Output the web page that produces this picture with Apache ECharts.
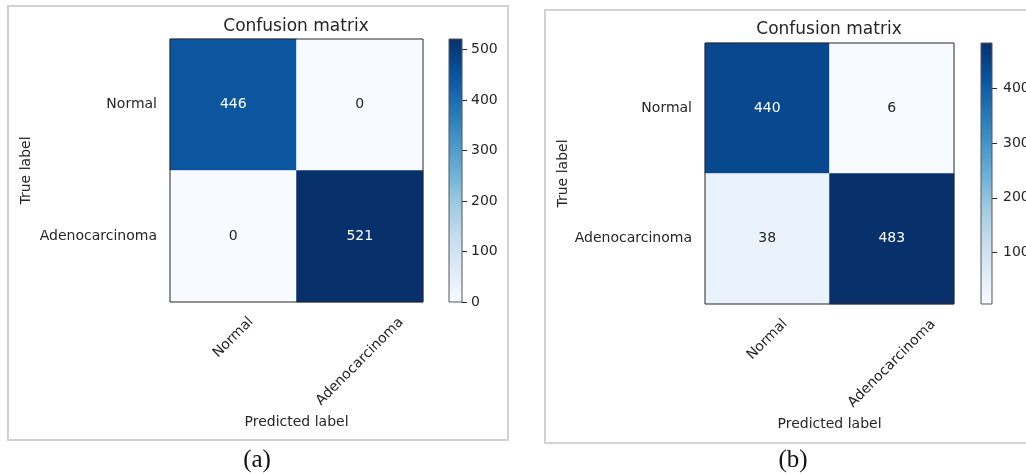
<!DOCTYPE html>
<html>
<head>
<meta charset="utf-8">
<script src="https://cdn.jsdelivr.net/npm/echarts@6/dist/echarts.min.js"></script>
<style>
  html, body { margin: 0; padding: 0; background: #fff; }
  #chart { width: 1026px; height: 474px; }
</style>
</head>
<body>
<div id="chart"></div>
<script>
// Class names, used for both the predicted (columns) and true (rows) axes
const classNames = ['Normal', 'Adenocarcinoma'];

// Confusion matrices: rows = true label, columns = predicted label
const matrixA = [
  [446, 0],
  [0, 521]
];
const matrixB = [
  [440, 6],
  [38, 483]
];

// Colour-bar tick labels
const colorbarTicksA = [0, 100, 200, 300, 400, 500];
const colorbarTicksB = [100, 200, 300, 400];

const panelCaptions = ['(a)', '(b)'];
const chartTitle = 'Confusion matrix';
const xAxisTitle = 'Predicted label';
const yAxisTitle = 'True label';

// matplotlib "Blues" colormap stops
const BLUES = ['#f7fbff', '#deebf7', '#c6dbef', '#9ecae1', '#6baed6',
               '#4292c6', '#2171b5', '#08519c', '#08306b'];
const FAMILY = '"DejaVu Sans", Verdana, sans-serif';
const INK = '#262626';
const TICK_FS = 14;

// Layout of the two panels (pixels)
const panels = [
  {
    matrix: matrixA, ticks: colorbarTicksA, caption: panelCaptions[0],
    grid: { left: 170, top: 39, width: 253, height: 263 },
    cbar: { left: 449, top: 39, width: 13, height: 263 },
    titlePos: [296, 27], captionPos: [257, 460],
    frame: { x: 8, y: 6, width: 500, height: 434 },
    nameGapX: 112, nameGapY: 137, cbarMargin: 9
  },
  {
    matrix: matrixB, ticks: colorbarTicksB, caption: panelCaptions[1],
    grid: { left: 705, top: 43, width: 249, height: 261 },
    cbar: { left: 981, top: 43, width: 11, height: 261 },
    titlePos: [829, 30], captionPos: [793, 460],
    frame: { x: 545, y: 10, width: 520, height: 433 },
    nameGapX: 113, nameGapY: 135, cbarMargin: 11
  }
];

// Measure label widths so rotated tick labels can be centred under their ticks
const measureCtx = document.createElement('canvas').getContext('2d');
measureCtx.font = TICK_FS + 'px ' + FAMILY;
const richX = {};
classNames.forEach(function (name, i) {
  const w = measureCtx.measureText(name).width;
  const pad = Math.round((w + TICK_FS) / 2);
  richX['c' + i] = {
    fontSize: TICK_FS, fontFamily: FAMILY, color: INK,
    padding: [pad, pad, 0, 0]
  };
});

const grids = [], xAxes = [], yAxes = [], series = [], visualMaps = [], graphics = [];

panels.forEach(function (p, i) {
  const flat = [].concat.apply([], p.matrix);
  const vmin = Math.min.apply(null, flat);
  const vmax = Math.max.apply(null, flat);
  const thresh = vmax / 2;

  // heatmap grid + colour-bar grid (drawn above the series so the outline stays crisp)
  grids.push(Object.assign({ show: true, borderColor: INK, borderWidth: 1,
    backgroundColor: 'transparent', z: 10, outerBoundsMode: 'none', containLabel: false }, p.grid));
  grids.push(Object.assign({ show: true, borderColor: '#555', borderWidth: 1,
    backgroundColor: 'transparent', z: 10, outerBoundsMode: 'none', containLabel: false }, p.cbar));

  const gH = 2 * i, gC = 2 * i + 1;

  xAxes.push({
    type: 'category', gridIndex: gH, data: classNames, position: 'bottom',
    axisLine: { show: false },
    axisTick: { alignWithLabel: true, length: 5, lineStyle: { color: INK } },
    axisLabel: {
      rotate: 45, align: 'center', verticalAlign: 'middle', margin: 13,
      formatter: function (v, idx) { return '{c' + idx + '|' + v + '}'; },
      rich: richX
    },
    splitLine: { show: false },
    name: xAxisTitle, nameLocation: 'middle', nameGap: p.nameGapX,
    nameTextStyle: { fontSize: TICK_FS, fontFamily: FAMILY, color: INK }
  });
  yAxes.push({
    type: 'category', gridIndex: gH, data: classNames, inverse: true,
    axisLine: { show: false },
    axisTick: { alignWithLabel: true, length: 5, lineStyle: { color: INK } },
    axisLabel: { margin: 13, fontSize: TICK_FS, fontFamily: FAMILY, color: INK },
    splitLine: { show: false },
    name: yAxisTitle, nameLocation: 'middle', nameGap: p.nameGapY, nameRotate: 90,
    nameTextStyle: { fontSize: TICK_FS, fontFamily: FAMILY, color: INK }
  });

  // colour bar axes
  xAxes.push({ type: 'category', gridIndex: gC, data: [''], show: false });
  yAxes.push({
    type: 'value', gridIndex: gC, min: vmin, max: vmax, position: 'right',
    axisLine: { show: false },
    splitLine: { show: false },
    axisTick: { show: true, customValues: p.ticks, length: 5, lineStyle: { color: INK } },
    axisLabel: { customValues: p.ticks, margin: p.cbarMargin, fontSize: TICK_FS,
      fontFamily: FAMILY, color: INK }
  });

  const data = [];
  p.matrix.forEach(function (row, r) {
    row.forEach(function (v, c) {
      data.push({ value: [c, r, v], label: { color: v > thresh ? '#ffffff' : INK } });
    });
  });

  series.push({
    type: 'heatmap', xAxisIndex: gH, yAxisIndex: gH, data: data,
    label: { show: true, fontSize: TICK_FS, fontFamily: FAMILY,
      formatter: function (d) { return d.value[2]; } },
    emphasis: { disabled: true }, silent: true
  });
  visualMaps.push({
    type: 'continuous', show: false, seriesIndex: series.length - 1,
    min: vmin, max: vmax, inRange: { color: BLUES }
  });

  // colour bar: one bar spanning the value range, filled with the colormap gradient
  series.push({
    type: 'bar', xAxisIndex: gC, yAxisIndex: gC, data: [vmax], barWidth: '100%',
    silent: true, clip: true,
    itemStyle: {
      color: new echarts.graphic.LinearGradient(0, 1, 0, 0,
        BLUES.map(function (c, k) { return { offset: k / (BLUES.length - 1), color: c }; }))
    }
  });

  // panel frame, title and caption
  graphics.push({
    type: 'rect', silent: true, z: -10,
    shape: p.frame,
    style: { fill: 'none', stroke: '#d2d2d2', lineWidth: 2 }
  });
  graphics.push({
    type: 'text', silent: true, x: p.titlePos[0], y: p.titlePos[1],
    style: { text: chartTitle, align: 'center', verticalAlign: 'middle',
      font: '17px ' + FAMILY, fill: INK }
  });
  graphics.push({
    type: 'text', silent: true, x: p.captionPos[0], y: p.captionPos[1],
    style: { text: p.caption, align: 'center', verticalAlign: 'middle',
      font: '25px "Liberation Serif", "Times New Roman", serif', fill: '#111' }
  });
});

const chart = echarts.init(document.getElementById('chart'), null, { renderer: 'canvas' });
chart.setOption({
  animation: false,
  backgroundColor: '#ffffff',
  grid: grids,
  xAxis: xAxes,
  yAxis: yAxes,
  visualMap: visualMaps,
  series: series,
  graphic: graphics
});
</script>
</body>
</html>
